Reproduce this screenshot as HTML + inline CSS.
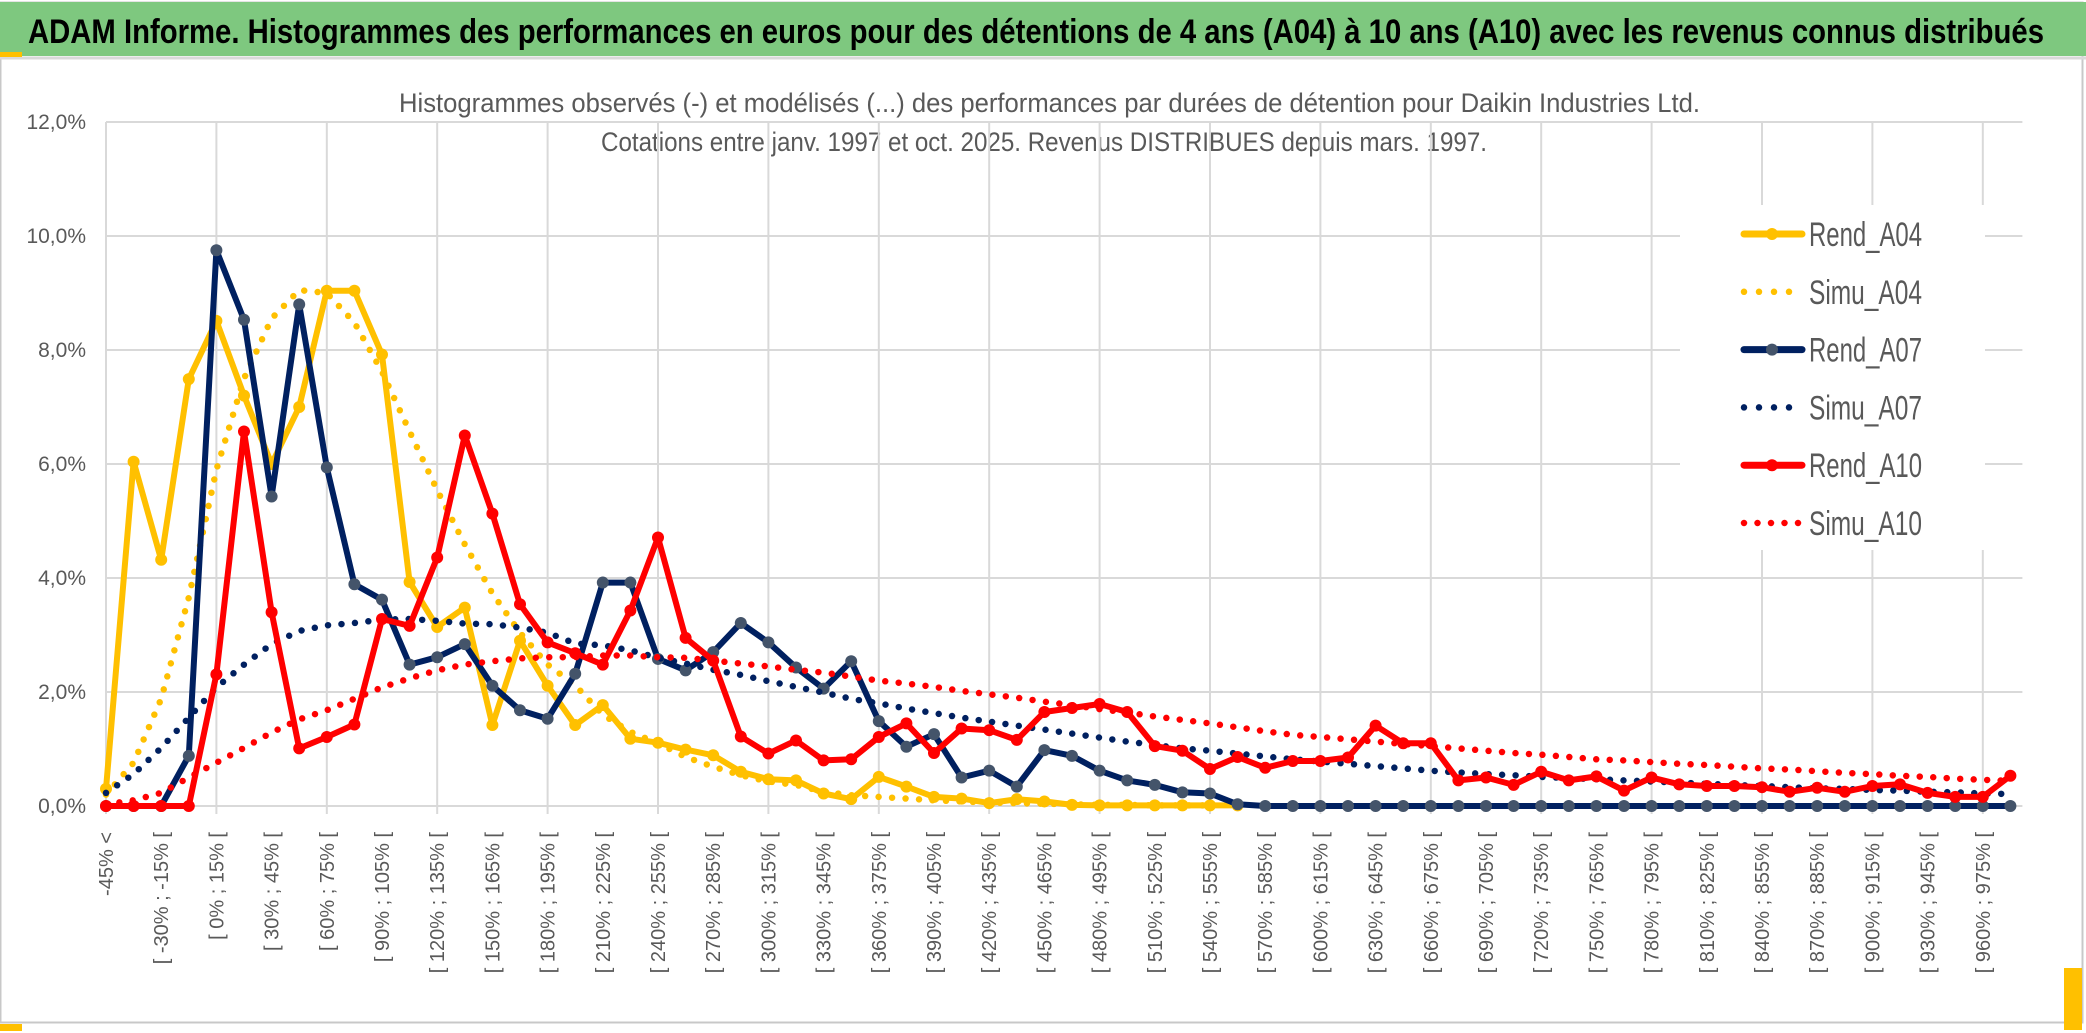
<!DOCTYPE html>
<html><head><meta charset="utf-8"><style>
html,body{margin:0;padding:0;background:#fff;}
svg{display:block;font-family:"Liberation Sans Narrow","Liberation Sans",sans-serif;}
</style></head><body>
<svg id="chart" width="2086" height="1033" viewBox="0 0 2086 1033">
<rect x="0" y="0" width="2086" height="1033" fill="#fff"/>
<rect x="0.5" y="2.5" width="2082" height="1020" fill="none" stroke="#c8c8c8" stroke-width="2"/>
<rect x="0" y="2" width="2086" height="54" fill="#7ec87f"/>
<line x1="0" y1="58" x2="2086" y2="58" stroke="#d9d9d9" stroke-width="3"/>
<rect x="0" y="52" width="22" height="5" fill="#ffc000"/>
<rect x="0" y="1024" width="22" height="7" fill="#ffc000"/>
<rect x="2064" y="968" width="18" height="62" fill="#ffc000"/>
<text x="28" y="43" font-size="34" font-weight="bold" fill="#000" textLength="2016" lengthAdjust="spacingAndGlyphs">ADAM Informe. Histogrammes des performances en euros pour des détentions de 4 ans (A04) à 10 ans (A10) avec les revenus connus distribués</text>
<text x="399" y="112" font-size="27" fill="#595959" textLength="1301" lengthAdjust="spacingAndGlyphs">Histogrammes observés (-) et modélisés (...) des performances par durées de détention pour Daikin Industries Ltd.</text>
<text x="601" y="151" font-size="27" fill="#595959" textLength="886" lengthAdjust="spacingAndGlyphs">Cotations entre janv. 1997 et oct. 2025. Revenus DISTRIBUES depuis mars. 1997.</text>
<g id="grid"></g>
<g id="ylabels"></g>
<g id="xlabels"></g>
<g id="series"></g>
<g id="legend"></g>
</svg>
<script>
const categoryCount = 70;
const yTicks = [0, 2, 4, 6, 8, 10, 12];
const rendA04 = [0.30,6.04,4.32,7.49,8.51,7.2,6.0,7.0,9.04,9.04,7.92,3.93,3.14,3.48,1.42,2.90,2.11,1.42,1.77,1.18,1.11,0.99,0.89,0.60,0.47,0.45,0.22,0.12,0.51,0.34,0.16,0.13,0.05,0.12,0.08,0.02,0.01,0.01,0.01,0.01,0.01,0.01];
const simuA04 = [0.2,0.76,1.88,3.66,5.9,7.5,8.55,9.05,9.0,8.48,7.62,6.57,5.54,4.59,3.73,3.04,2.48,2.12,1.6,1.3,1.1,0.86,0.69,0.54,0.43,0.37,0.25,0.19,0.16,0.13,0.1,0.08,0.06,0.05,0.04,0.03,0.02,0.02,0.01,0.01,0.01];
const rendA07 = [0,0,0,0.88,9.75,8.53,5.43,8.8,5.94,3.89,3.62,2.48,2.61,2.84,2.11,1.68,1.53,2.32,3.92,3.92,2.58,2.38,2.7,3.21,2.87,2.43,2.06,2.54,1.49,1.04,1.26,0.5,0.62,0.34,0.98,0.88,0.62,0.45,0.37,0.24,0.22,0.03,0,0,0,0,0,0,0,0,0,0,0,0,0,0,0,0,0,0,0,0,0,0,0,0,0,0,0,0];
const simuA07 = [0.23,0.56,1.02,1.55,2.08,2.48,2.84,3.07,3.17,3.21,3.27,3.28,3.25,3.2,3.19,3.13,3.04,2.85,2.82,2.73,2.6,2.5,2.39,2.3,2.19,2.09,1.99,1.88,1.8,1.71,1.63,1.55,1.48,1.41,1.34,1.27,1.2,1.13,1.07,1.01,0.97,0.92,0.87,0.82,0.78,0.74,0.7,0.66,0.62,0.59,0.56,0.54,0.51,0.49,0.47,0.45,0.43,0.41,0.39,0.37,0.35,0.33,0.31,0.3,0.28,0.27,0.25,0.24,0.22,0.21];
const rendA10 = [0,0,0,0,2.31,6.57,3.40,1.01,1.21,1.43,3.28,3.16,4.36,6.5,5.13,3.54,2.87,2.68,2.48,3.43,4.71,2.95,2.55,1.22,0.92,1.15,0.8,0.82,1.21,1.45,0.93,1.36,1.33,1.16,1.65,1.72,1.79,1.65,1.05,0.97,0.65,0.86,0.67,0.79,0.79,0.85,1.41,1.1,1.1,0.45,0.5,0.37,0.6,0.45,0.52,0.27,0.5,0.38,0.35,0.35,0.33,0.25,0.32,0.25,0.35,0.38,0.23,0.16,0.16,0.53];
const simuA10 = [0.03,0.1,0.23,0.5,0.76,1.02,1.29,1.52,1.68,1.88,2.08,2.24,2.38,2.48,2.54,2.59,2.61,2.61,2.64,2.64,2.61,2.6,2.55,2.5,2.45,2.39,2.34,2.27,2.2,2.15,2.09,2.02,1.96,1.9,1.83,1.77,1.7,1.64,1.57,1.51,1.45,1.38,1.31,1.25,1.21,1.17,1.13,1.09,1.05,1.01,0.97,0.93,0.9,0.86,0.82,0.8,0.77,0.74,0.72,0.69,0.66,0.64,0.61,0.58,0.56,0.53,0.51,0.48,0.46,0.44];
const legendLabels = ["Rend_A04","Simu_A04","Rend_A07","Simu_A07","Rend_A10","Simu_A10"];

const NS = "http://www.w3.org/2000/svg";
const X0 = 106, DX = 27.6, Y0 = 806, PY = 57;
function xs(i){ return X0 + i*DX; }
function ys(v){ return Y0 - v*PY; }
function catLabel(i){
  if(i===0) return "-45% <";
  const lo = -45 + (i-1)*15;
  return "[ " + lo + "% ; " + (lo+15) + "% [";
}
function mk(tag, attrs, parent){
  const e = document.createElementNS(NS, tag);
  for(const k in attrs) e.setAttribute(k, attrs[k]);
  parent.appendChild(e); return e;
}
const grid = document.getElementById('grid');
const plotRight = xs(categoryCount - 1) + 12;
yTicks.forEach(t => {
  const l = mk('line', {x1:X0, x2:plotRight, y1:ys(t), y2:ys(t), stroke:'#d9d9d9', 'stroke-width':2}, grid);
  
  
});
for(let i=0;i<categoryCount;i+=4){
  const l = mk('line', {x1:xs(i), x2:xs(i), y1:ys(12), y2:ys(0)+8, stroke:'#d9d9d9', 'stroke-width':2}, grid);
  
  
}
const yl = document.getElementById('ylabels');
yTicks.forEach(t => {
  const tx = mk('text', {x:86, y:ys(t)+7, 'font-size':21, fill:'#595959', 'text-anchor':'end'}, yl);
  tx.textContent = t.toFixed(1).replace('.', ',') + '%';
  
  
});
const xl = document.getElementById('xlabels');
for(let i=0;i<categoryCount;i+=2){
  const x = xs(i)+7, y = 832;
  const tx = mk('text', {x:x, y:y, 'font-size':20, fill:'#595959', 'text-anchor':'end', 'font-family':'"Liberation Sans",sans-serif', transform:'rotate(-90 '+x+' '+y+')'}, xl);
  tx.textContent = catLabel(i);
  
  
}
const sg = document.getElementById('series');
function pathOf(vals){
  let d = '';
  vals.forEach((v,i) => { if(v===null||v===undefined) return; d += (d?'L':'M') + xs(i).toFixed(1) + ' ' + ys(v).toFixed(1); });
  return d;
}
function solid(vals, color, markerFill, name){
  const g = mk('g', {}, sg);
  
  
  const p = mk('path', {d:pathOf(vals), fill:'none', stroke:color, 'stroke-width':6, 'stroke-linejoin':'round', 'stroke-linecap':'round'}, g);
  
  
  vals.forEach((v,i) => {
    const c = mk('circle', {cx:xs(i), cy:ys(v), r:6, fill:markerFill}, g);
    
    
  });
}
function dotted(vals, color, name){
  const p = mk('path', {d:pathOf(vals), fill:'none', stroke:color, 'stroke-width':6.5, 'stroke-linecap':'round', 'stroke-dasharray':'0 13.5'}, sg);
  
  
}
solid(rendA04, '#ffc000', '#ffc000', 'rend-a04');
dotted(simuA04, '#ffc000', 'simu-a04');
solid(rendA07, '#002060', '#44546a', 'rend-a07');
dotted(simuA07, '#002060', 'simu-a07');
solid(rendA10, '#ff0000', '#ff0000', 'rend-a10');
dotted(simuA10, '#ff0000', 'simu-a10');

const lg = document.getElementById('legend');
const bg = mk('rect', {x:1680, y:205, width:305, height:345, fill:'#fff'}, lg);


const legColors = ['#ffc000','#ffc000','#002060','#002060','#ff0000','#ff0000'];
const legMarker = ['#ffc000',null,'#44546a',null,'#ff0000',null];
legendLabels.forEach((lab, k) => {
  const y = 234 + k*57.8;
  const g = mk('g', {}, lg);
  
  
  if(legMarker[k]){
    mk('line', {x1:1744, x2:1802, y1:y, y2:y, stroke:legColors[k], 'stroke-width':7, 'stroke-linecap':'round'}, g);
    mk('circle', {cx:1772, cy:y, r:6, fill:legMarker[k]}, g);
  } else {
    mk('line', {x1:1744, x2:k===5?1802:1790, y1:y, y2:y, stroke:legColors[k], 'stroke-width':6.5, 'stroke-linecap':'round', 'stroke-dasharray':k===5?'0 13.5':'0 15'}, g);
  }
  const t = mk('text', {x:1809, y:y+12, 'font-size':34, fill:'#595959', textLength:113, lengthAdjust:'spacingAndGlyphs'}, g);
  t.textContent = lab;
});
</script>
</body></html>
